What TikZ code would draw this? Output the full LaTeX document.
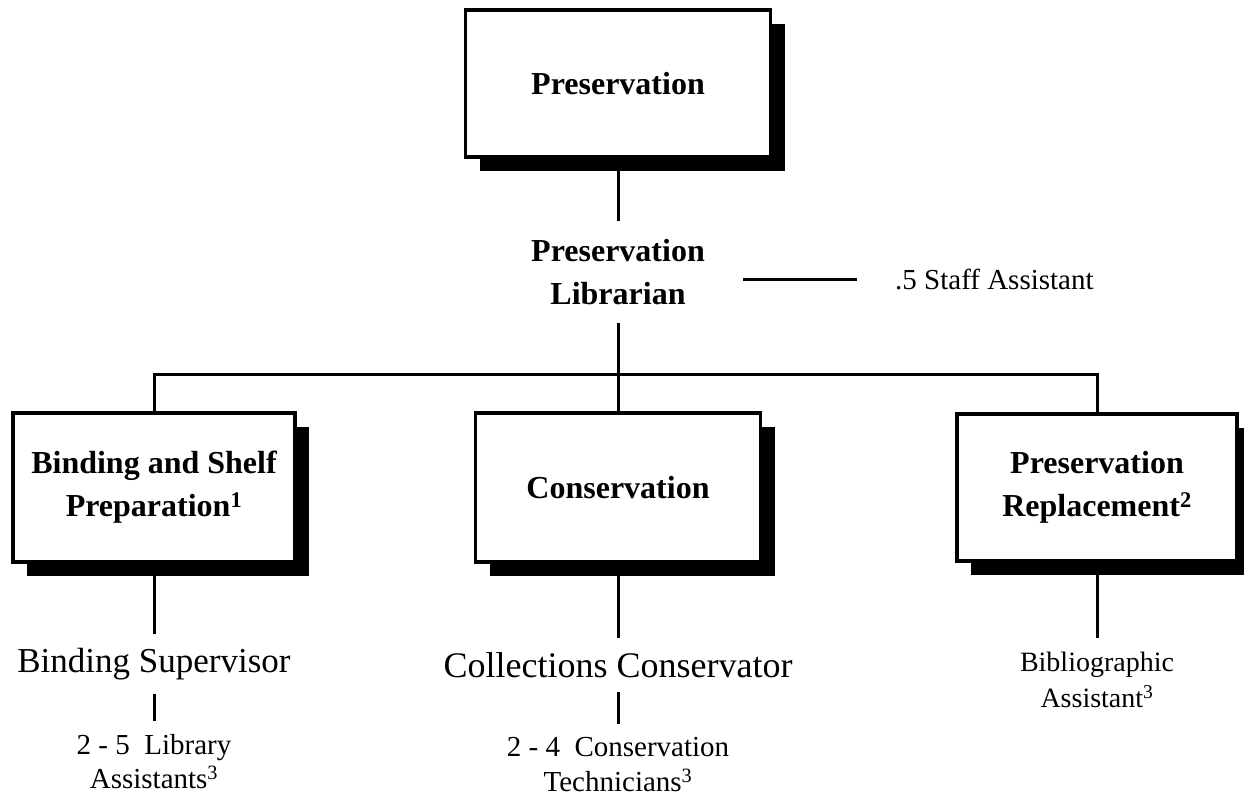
\documentclass[tikz,border=0pt]{standalone}
\usepackage{fontspec}
\setmainfont{Liberation Serif}
\usetikzlibrary{shadows}
\begin{document}
\begin{tikzpicture}[x=1pt,y=-1pt,
  unitbox/.style={draw=black,line width=3.5pt,fill=white,align=center,
    font=\fontsize{32}{43}\selectfont\bfseries,
    drop shadow={shadow xshift=14pt,shadow yshift=-14pt,fill=black,opacity=1}},
  role/.style={align=center,inner ysep=14pt},
  link/.style={line width=3pt}]
\useasboundingbox (0,0) rectangle (1244,800);
\node[unitbox,minimum width=305pt,minimum height=147pt] (pres) at (618,83.5) {Preservation};
\node[align=center,inner xsep=38pt,inner ysep=18pt,font=\fontsize{32}{43}\selectfont\bfseries] (lib) at (618,272) {Preservation\\Librarian};
\node[anchor=west,inner xsep=38pt,font=\fontsize{29}{33}\selectfont] (staff) at (857,279) {.5 Staff Assistant};
\node[unitbox,minimum width=282pt,minimum height=149pt] (bind) at (154,487.5) {Binding and Shelf\\Preparation\textsuperscript{1}};
\node[unitbox,minimum width=285pt,minimum height=149pt] (cons) at (618,487.5) {Conservation};
\node[unitbox,minimum width=280pt,minimum height=147pt] (repl) at (1097,487.5) {Preservation\\Replacement\textsuperscript{2}};
\node[role,font=\fontsize{35}{40}\selectfont] (bsup) at (154,664) {Binding Supervisor};
\node[role,font=\fontsize{29}{34}\selectfont] (lasst) at (154,762) {2 - 5~ Library\\Assistants\textsuperscript{3}};
\node[role,font=\fontsize{36}{40}\selectfont] (csup) at (618,665) {Collections Conservator};
\node[role,font=\fontsize{29}{35}\selectfont] (ctech) at (618,765) {2 - 4~ Conservation\\Technicians\textsuperscript{3}};
\node[role,font=\fontsize{28}{36}\selectfont] (bibl) at (1097,680) {Bibliographic\\Assistant\textsuperscript{3}};
\coordinate (bar) at (618,374);
\draw[link] (pres.south) -- (lib.north);
\draw[link] (lib.south) -- (bar);
\draw[link] (staff.west) -- (staff.west -| lib.east);
\draw[link] (bind.north) |- (bar) -| (repl.north);
\draw[link] (bar) -- (cons.north);
\draw[link] (bind.south) -- (bsup.north);
\draw[link] (bsup.south) -- (lasst.north);
\draw[link] (cons.south) -- (csup.north);
\draw[link] (csup.south) -- (ctech.north);
\draw[link] (repl.south) -- (bibl.north);
\end{tikzpicture}
\end{document}
